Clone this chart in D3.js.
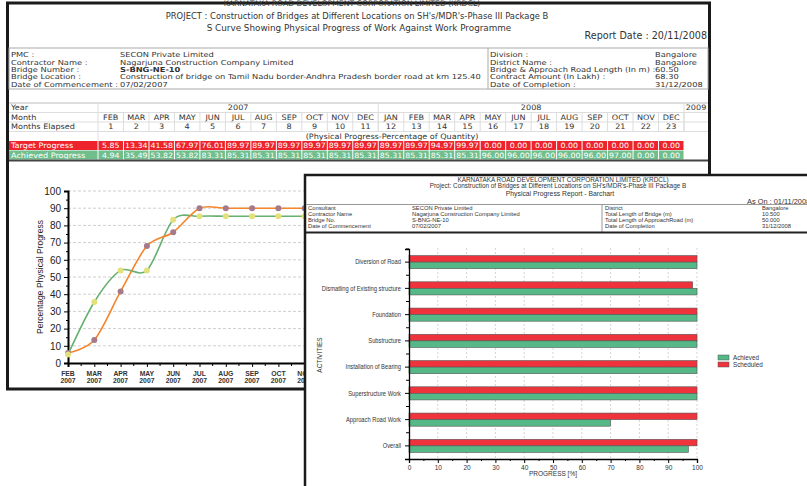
<!DOCTYPE html>
<html>
<head>
<meta charset="utf-8">
<script src="https://cdn.jsdelivr.net/npm/d3@7"></script>
<style>
body { margin: 0; background: #fff; }
svg { display: block; }
</style>
</head>
<body>
<svg id="chart" width="807" height="486"></svg>
<script>
// ---- data: S-curve report ----
var monthNames = ["FEB","MAR","APR","MAY","JUN","JUL","AUG","SEP","OCT","NOV","DEC","JAN","FEB","MAR","APR","MAY","JUN","JUL","AUG","SEP","OCT","NOV","DEC"];
var monthYears = ["2007","2007","2007","2007","2007","2007","2007","2007","2007","2007","2007","2008","2008","2008","2008","2008","2008","2008","2008","2008","2008","2008","2008"];
var elapsed = ["1","2","3","4","5","6","7","8","9","10","11","12","13","14","15","16","17","18","19","20","21","22","23"];
var target = [5.85,13.34,41.58,67.97,76.01,89.97,89.97,89.97,89.97,89.97,89.97,89.97,89.97,94.97,99.97,0.00,0.00,0.00,0.00,0.00,0.00,0.00,0.00];
var achieved = [4.94,35.49,53.82,53.82,83.31,85.31,85.31,85.31,85.31,85.31,85.31,85.31,85.31,85.31,85.31,96.00,96.00,96.00,96.00,96.00,97.00,0.00,0.00];
var yTicks = [0,10,20,30,40,50,60,70,80,90,100];

var infoLeftLabels = ["PMC :","Contractor Name :","Bridge Number :","Bridge Location :","Date of Commencement :"];
var infoLeftValues = ["SECON Private Limited","Nagarjuna Construction Company Limited","S-BNG-NE-10","Construction of bridge on Tamil Nadu border-Andhra Pradesh border road at km 125.40","07/02/2007"];
var infoRightLabels = ["Division :","District Name :","Bridge & Approach Road Length (In m) :","Contract Amount (In Lakh) :","Date of Completion :"];
var infoRightValues = ["Bangalore","Bangalore","60.50","68.30","31/12/2008"];

// ---- data: bar chart report ----
var activities = ["Diversion of Road","Dismatling of Existing structure","Foundation","Substructure","Installation of Bearing","Superstructure Work","Approach Road Work","Overall"];
var scheduled = [100,98.5,100,100,100,100,100,100];
var achievedAct = [100,100,100,100,100,100,70,97];
var progressTicks = [0,10,20,30,40,50,60,70,80,90,100];

var info2LeftLabels = ["Consultant","Contractor Name","Bridge No.","Date of Commencement"];
var info2LeftValues = ["SECON Private Limited","Nagarjuna Construction Company Limited","S-BNG-NE-10","07/02/2007"];
var info2RightLabels = ["District","Total Length of Bridge (m)","Total Length of ApproachRoad (m)","Date of Completion"];
var info2RightValues = ["Bangalore","10.500","50.000","31/12/2008"];

var svg = d3.select("#chart");
var verd = "DejaVu Sans, Verdana, sans-serif";
var arial = "Liberation Sans, Arial, sans-serif";
var narrow = "Liberation Sans Narrow, Liberation Sans, Arial, sans-serif";

// text placed with a horizontal stretch (the report screenshot is wider than tall)
function addText(g, x, y, str, sx) {
    return g.append("text")
        .attr("transform", "translate(" + x + "," + y + ") scale(" + (sx || 1) + ",1)")
        .text(str);
}

// ================= panel 1 : S curve report =================
var p1 = svg.append("g");
p1.append("rect")
    .attr("x", 7.5).attr("y", 3)
    .attr("width", 702).attr("height", 386)
    .attr("fill", "#fff").attr("stroke", "#1a1a1a").attr("stroke-width", 3);

var head = p1.append("g").attr("font-family", verd).attr("fill", "#333").attr("text-anchor", "middle");
addText(head, 352, 6, "KARNATAKA ROAD DEVELOPMENT CORPORATION LIMITED (KRDCL)").attr("font-size", 7.7);
addText(head, 357, 19, "PROJECT : Construction of Bridges at Different Locations on SH's/MDR's-Phase III Package B").attr("font-size", 8.4);
addText(head, 359, 31, "S Curve Showing Physical Progress of Work Against Work Programme").attr("font-size", 8.8);
addText(head, 707, 39, "Report Date : 20/11/2008").attr("font-size", 9.6).attr("text-anchor", "end");

// info block
var infoTop = 48, infoRow = 7.3;
p1.append("rect").attr("x", 9).attr("y", infoTop).attr("width", 699).attr("height", 41)
    .attr("fill", "none").attr("stroke", "#aaa");
p1.append("line").attr("x1", 488).attr("x2", 488).attr("y1", infoTop).attr("y2", infoTop + 41)
    .attr("stroke", "#aaa");
var info = p1.append("g").attr("font-family", verd).attr("font-size", 6.9).attr("fill", "#333");
infoLeftLabels.forEach(function(d, i) {
    var y = infoTop + 9.3 + i * infoRow;
    addText(info, 11, y, d, 1.2);
    addText(info, 120, y, infoLeftValues[i], 1.2).attr("font-weight", i == 2 ? "bold" : null);
    addText(info, 490, y, infoRightLabels[i], 1.2);
    addText(info, 655, y, infoRightValues[i], 1.2);
});

// progress table
var mx = d3.scaleBand().domain(d3.range(monthNames.length)).range([98, 684]);
var rowH = 9.5, tTop = 103, sx = 1.08;
var tbl = p1.append("g").attr("font-family", verd).attr("font-size", 7.5).attr("fill", "#333");
var rowsY = [0,1,2,3,4,5].map(function(r) { return tTop + r * rowH; });

tbl.append("line").attr("x1", 9).attr("x2", 708).attr("y1", tTop).attr("y2", tTop).attr("stroke", "#bbb");
[1,2,3].forEach(function(r) {
    tbl.append("line").attr("x1", 9).attr("x2", 708).attr("y1", rowsY[r]).attr("y2", rowsY[r]).attr("stroke", "#ddd");
});
tbl.append("line").attr("x1", 98).attr("x2", 98).attr("y1", tTop).attr("y2", rowsY[4]).attr("stroke", "#ddd");
[11, 23].forEach(function(i) {
    var x = i < 23 ? mx(i) : mx.range()[1];
    tbl.append("line").attr("x1", x).attr("x2", x).attr("y1", tTop).attr("y2", rowsY[3]).attr("stroke", "#ddd");
});
monthNames.forEach(function(d, i) {
    tbl.append("line").attr("x1", mx(i) + mx.bandwidth()).attr("x2", mx(i) + mx.bandwidth())
        .attr("y1", rowsY[1]).attr("y2", rowsY[3]).attr("stroke", "#ddd");
});

addText(tbl, 11, rowsY[0] + 7, "Year", sx);
addText(tbl, 11, rowsY[1] + 7, "Month", sx);
addText(tbl, 11, rowsY[2] + 7, "Months Elapsed", sx);

addText(tbl, (mx(0) + mx(10) + mx.bandwidth()) / 2, rowsY[0] + 7, "2007", sx).attr("text-anchor", "middle");
addText(tbl, (mx(11) + mx(22) + mx.bandwidth()) / 2, rowsY[0] + 7, "2008", sx).attr("text-anchor", "middle");
addText(tbl, 696, rowsY[0] + 7, "2009", sx).attr("text-anchor", "middle");

tbl.selectAll(".mname").data(monthNames).enter().append("text")
    .attr("transform", function(d, i) { return "translate(" + (mx(i) + mx.bandwidth() / 2) + "," + (rowsY[1] + 7) + ") scale(" + sx + ",1)"; })
    .attr("text-anchor", "middle")
    .text(function(d) { return d; });
tbl.selectAll(".melap").data(elapsed).enter().append("text")
    .attr("transform", function(d, i) { return "translate(" + (mx(i) + mx.bandwidth() / 2) + "," + (rowsY[2] + 7) + ") scale(" + sx + ",1)"; })
    .attr("text-anchor", "middle")
    .text(function(d) { return d; });

addText(tbl, 392, rowsY[3] + 7, "(Physical Progress-Percentage of Quantity)", sx).attr("text-anchor", "middle");

function valueRow(vals, label, color, r) {
    var y = rowsY[r];
    tbl.append("rect").attr("x", 9).attr("y", y).attr("width", 88.5).attr("height", rowH - 0.5).attr("fill", color);
    addText(tbl, 11, y + 7, label, sx).attr("fill", "#fff");
    tbl.selectAll(".cell" + r).data(vals).enter().append("rect")
        .attr("x", function(d, i) { return mx(i) + 0.5; })
        .attr("y", y).attr("width", mx.bandwidth() - 1).attr("height", rowH - 0.5)
        .attr("fill", color);
    tbl.selectAll(".val" + r).data(vals).enter().append("text")
        .attr("transform", function(d, i) { return "translate(" + (mx(i) + mx.bandwidth() / 2) + "," + (y + 7) + ") scale(" + sx + ",1)"; })
        .attr("text-anchor", "middle").attr("fill", "#fff")
        .attr("font-size", 7.3)
        .text(function(d) { return d.toFixed(2); });
}
valueRow(target, "Target Progress", "#ee242c", 4);
valueRow(achieved, "Achieved Progress", "#6fbe8c", 5);

tbl.append("line").attr("x1", 9).attr("x2", 708).attr("y1", rowsY[5] + rowH + 0.5).attr("y2", rowsY[5] + rowH + 0.5)
    .attr("stroke", "#444").attr("stroke-width", 2);

// S curve chart
var x = d3.scalePoint().domain(d3.range(monthNames.length)).range([68, 68 + 22 * 26.3]);
var y = d3.scaleLinear().domain([0, 100]).range([363, 191]);
var chart = p1.append("g");

chart.selectAll(".grid").data(yTicks.slice(1)).enter().append("line")
    .attr("x1", 68).attr("x2", 709).attr("y1", function(d) { return y(d); }).attr("y2", function(d) { return y(d); })
    .attr("stroke", "#cfcfcf").attr("stroke-dasharray", "3,2");

var yAxis = chart.append("g").attr("transform", "translate(68,0)")
    .call(d3.axisLeft(y).tickValues(yTicks).tickSize(4).tickPadding(3));
yAxis.selectAll("text").attr("font-family", arial).attr("font-size", 10).attr("fill", "#222");
yAxis.select(".domain").attr("stroke-width", 2);
chart.append("g").attr("transform", "translate(68,0)")
    .call(d3.axisLeft(y).tickValues(d3.range(5, 100, 10)).tickSize(2).tickFormat(""))
    .select(".domain").remove();

var xAxis = chart.append("g").attr("transform", "translate(0,363)")
    .call(d3.axisBottom(x).tickSize(4).tickFormat(""));
xAxis.select(".domain").attr("stroke-width", 2);
var halfStep = x.step() / 2;
chart.selectAll(".minx").data(monthNames).enter().append("line")
    .attr("x1", function(d, i) { return x(i) + halfStep; }).attr("x2", function(d, i) { return x(i) + halfStep; })
    .attr("y1", 363).attr("y2", 366).attr("stroke", "#000");
var xl = chart.append("g").attr("font-family", arial).attr("font-size", 6.8).attr("fill", "#333")
    .attr("text-anchor", "middle").attr("font-weight", "bold");
xl.selectAll(".xm").data(monthNames).enter().append("text")
    .attr("x", function(d, i) { return x(i); }).attr("y", 375.5).text(function(d) { return d; });
xl.selectAll(".xy").data(monthYears).enter().append("text")
    .attr("x", function(d, i) { return x(i); }).attr("y", 382.5).text(function(d) { return d; });

chart.append("text").attr("transform", "translate(43,277) rotate(-90)")
    .attr("text-anchor", "middle").attr("font-family", narrow).attr("font-size", 8.5).attr("fill", "#222")
    .text("Percentage Physical Progress");

var line = d3.line()
    .x(function(d, i) { return x(i); })
    .y(function(d) { return y(d); })
    .curve(d3.curveCardinal.tension(0.1));

chart.append("path").datum(achieved).attr("fill", "none").attr("stroke", "#66b070")
    .attr("stroke-width", 1.6).attr("d", line);
chart.append("path").datum(target).attr("fill", "none").attr("stroke", "#f5842a")
    .attr("stroke-width", 1.6).attr("d", line);
chart.selectAll(".pt").data(target).enter().append("circle")
    .attr("cx", function(d, i) { return x(i); }).attr("cy", function(d) { return y(d); })
    .attr("r", 3).attr("fill", "#a57a8a");
chart.selectAll(".pa").data(achieved).enter().append("circle")
    .attr("cx", function(d, i) { return x(i); }).attr("cy", function(d) { return y(d); })
    .attr("r", 3).attr("fill", "#e4e17c");

// ================= panel 2 : bar chart report =================
var p2 = svg.append("g");
p2.append("rect").attr("x", 305).attr("y", 175).attr("width", 560).attr("height", 360)
    .attr("fill", "#fff").attr("stroke", "#1a1a1a").attr("stroke-width", 2.5);

var t2 = p2.append("g").attr("font-family", arial).attr("fill", "#333");
t2.append("text").attr("x", 563).attr("y", 181.5).attr("text-anchor", "middle").attr("font-size", 6.4)
    .text("KARNATAKA ROAD DEVELOPMENT CORPORATION LIMITED (KRDCL)");
t2.append("text").attr("x", 558).attr("y", 188).attr("text-anchor", "middle").attr("font-size", 6.4)
    .text("Project: Construction of Bridges at Different Locations on SH's/MDR's-Phase III Package B");
t2.append("text").attr("x", 560).attr("y", 196).attr("text-anchor", "middle").attr("font-size", 6.8)
    .text("Physical Progress Report - Barchart");
t2.append("text").attr("x", 747).attr("y", 203.5).attr("font-size", 7.4)
    .text("As On : 01/11/2008");

p2.append("line").attr("x1", 306).attr("x2", 807).attr("y1", 204.5).attr("y2", 204.5).attr("stroke", "#999");
p2.append("line").attr("x1", 602).attr("x2", 602).attr("y1", 204.5).attr("y2", 232).attr("stroke", "#999");
p2.append("line").attr("x1", 306).attr("x2", 807).attr("y1", 232.5).attr("y2", 232.5).attr("stroke", "#222").attr("stroke-width", 2);
info2LeftLabels.forEach(function(d, i) {
    var yy = 209.5 + i * 6;
    t2.append("text").attr("x", 308).attr("y", yy).attr("font-size", 5.8).text(d);
    t2.append("text").attr("x", 412).attr("y", yy).attr("font-size", 5.8).text(info2LeftValues[i]);
    t2.append("text").attr("x", 605).attr("y", yy).attr("font-size", 5.8).text(info2RightLabels[i]);
    t2.append("text").attr("x", 762).attr("y", yy).attr("font-size", 5.8).text(info2RightValues[i]);
});

var bx = d3.scaleLinear().domain([0, 100]).range([409, 697]);
var by = d3.scaleBand().domain(activities).range([249, 459]).paddingInner(0.5).paddingOuter(0.25);
var sub = d3.scaleBand().domain(["Scheduled", "Achieved"]).range([0, by.bandwidth()]);
var bars = p2.append("g");

bars.selectAll(".bgrid").data(progressTicks.slice(1)).enter().append("line")
    .attr("x1", function(d) { return bx(d); }).attr("x2", function(d) { return bx(d); })
    .attr("y1", 248).attr("y2", 459)
    .attr("stroke", "#d4d4d4").attr("stroke-dasharray", "2,2");

bars.selectAll(".bs").data(scheduled).enter().append("rect")
    .attr("x", bx(0)).attr("y", function(d, i) { return by(activities[i]) + sub("Scheduled"); })
    .attr("width", function(d) { return bx(d) - bx(0); }).attr("height", sub.bandwidth())
    .attr("fill", "#ee333d").attr("stroke", "#555").attr("stroke-width", 0.6);
bars.selectAll(".ba").data(achievedAct).enter().append("rect")
    .attr("x", bx(0)).attr("y", function(d, i) { return by(activities[i]) + sub("Achieved"); })
    .attr("width", function(d) { return bx(d) - bx(0); }).attr("height", sub.bandwidth())
    .attr("fill", "#55b886").attr("stroke", "#555").attr("stroke-width", 0.6);

var bxa = bars.append("g").attr("transform", "translate(0,459)")
    .call(d3.axisBottom(bx).tickValues(progressTicks).tickSize(4).tickPadding(2));
bxa.selectAll("text").attr("font-family", narrow).attr("font-size", 6.5).attr("fill", "#333");
bxa.select(".domain").attr("stroke-width", 1.3);
bars.append("g").attr("transform", "translate(0,459)")
    .call(d3.axisBottom(bx).tickValues(d3.range(5, 100, 10)).tickSize(2).tickFormat(""))
    .select(".domain").remove();

var bya = bars.append("g").attr("transform", "translate(409,0)")
    .call(d3.axisLeft(by).tickSize(4).tickPadding(4));
bya.selectAll("text").attr("font-family", narrow).attr("font-size", 6.8).attr("fill", "#333")
    .attr("transform", "scale(0.85,1)").attr("x", -8 / 0.85);
bya.select(".domain").attr("stroke-width", 1.3);
bars.selectAll(".bmin").data(activities).enter().append("line")
    .attr("x1", 406).attr("x2", 409)
    .attr("y1", function(d) { return by(d) - by.step() * by.paddingInner() / 2; })
    .attr("y2", function(d) { return by(d) - by.step() * by.paddingInner() / 2; })
    .attr("stroke", "#000");

bars.append("text").attr("x", 553).attr("y", 476).attr("text-anchor", "middle")
    .attr("font-family", narrow).attr("font-size", 6.5).attr("fill", "#333").text("PROGRESS [%]");
bars.append("text").attr("transform", "translate(322,355) rotate(-90)").attr("text-anchor", "middle")
    .attr("font-family", narrow).attr("font-size", 6.5).attr("fill", "#333").text("ACTIVITIES");

var legendKeys = ["Achieved", "Scheduled"];
var legendColors = ["#55b886", "#ee333d"];
var lg = bars.selectAll(".lg").data(legendKeys).enter().append("g")
    .attr("transform", function(d, i) { return "translate(718," + (355 + i * 7) + ")"; });
lg.append("rect").attr("width", 11).attr("height", 5)
    .attr("fill", function(d, i) { return legendColors[i]; }).attr("stroke", "#555").attr("stroke-width", 0.5);
lg.append("text").attr("x", 15).attr("y", 5).attr("font-family", narrow).attr("font-size", 6.3)
    .attr("fill", "#333").text(function(d) { return d; });
</script>
</body>
</html>
